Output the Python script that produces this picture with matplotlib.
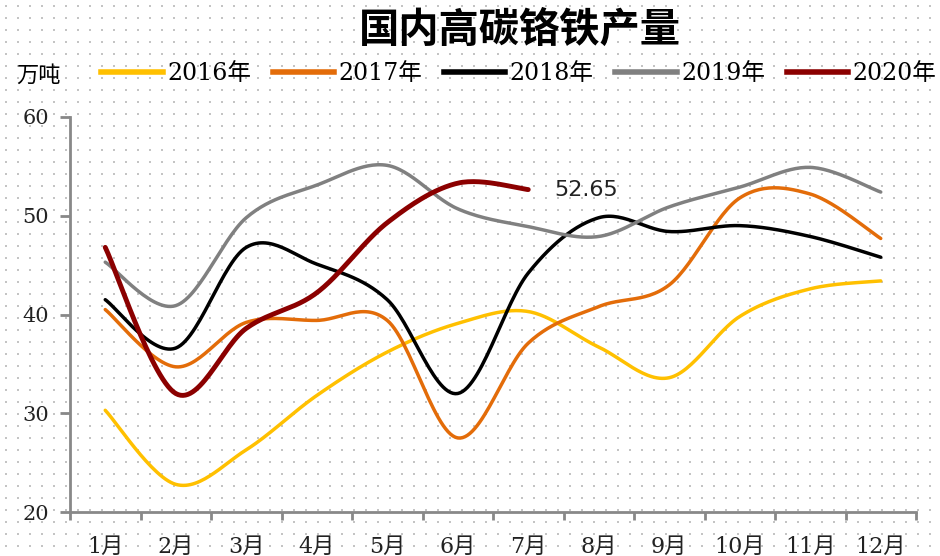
import numpy as np
import matplotlib
matplotlib.use("Agg")
import matplotlib.pyplot as plt
from matplotlib.lines import Line2D

plt.rcParams['font.family'] = ['DejaVu Serif', 'Noto Sans CJK SC']

months = ["1月", "2月", "3月", "4月", "5月", "6月", "7月", "8月", "9月", "10月", "11月", "12月"]
y2016 = [30.3, 22.8, 26.3, 31.8, 36.2, 39.1, 40.3, 36.7, 33.6, 39.8, 42.6, 43.4]
y2017 = [40.5, 34.7, 39.2, 39.4, 39.4, 27.5, 37.1, 40.8, 43.0, 51.8, 52.2, 47.7]
y2018 = [41.5, 36.6, 46.8, 45.1, 41.5, 32.0, 44.2, 49.8, 48.4, 49.0, 47.9, 45.8]
y2019 = [45.3, 40.9, 49.8, 53.1, 55.1, 50.7, 48.9, 47.9, 50.9, 52.9, 54.9, 52.4]
y2020 = [46.8, 32.0, 38.6, 42.2, 49.3, 53.3, 52.65]

series = [
    ("2016年", y2016, "#FFC000", 2.5),
    ("2017年", y2017, "#E36C09", 2.5),
    ("2018年", y2018, "#000000", 2.5),
    ("2019年", y2019, "#808080", 2.5),
    ("2020年", y2020, "#8B0000", 3.5),
]


def smooth(x, y, n=30):
    # Catmull-Rom style smoothing like Excel's smoothed lines
    x = np.asarray(x, float)
    y = np.asarray(y, float)
    px = np.concatenate([[x[0]], x, [x[-1]]])
    py = np.concatenate([[y[0]], y, [y[-1]]])
    xs, ys = [], []
    t = np.linspace(0, 1, n)
    for i in range(1, len(px) - 2):
        p0, p1, p2, p3 = np.array([px[i-1], py[i-1]]), np.array([px[i], py[i]]), np.array([px[i+1], py[i+1]]), np.array([px[i+2], py[i+2]])
        c1 = p1 + (p2 - p0) / 6
        c2 = p2 - (p3 - p1) / 6
        pts = ((1-t)**3)[:, None]*p1 + (3*(1-t)**2*t)[:, None]*c1 + (3*(1-t)*t**2)[:, None]*c2 + (t**3)[:, None]*p2
        xs.extend(pts[:, 0])
        ys.extend(pts[:, 1])
    return np.array(xs), np.array(ys)


fig = plt.figure(figsize=(9.4, 5.56), dpi=100)

# dotted background texture
bg = fig.add_axes([0, 0, 1, 1], zorder=-1)
gx, gy = np.meshgrid(np.arange(6, 940, 12), np.arange(6, 556, 12))
bg.scatter(gx.ravel(), gy.ravel(), s=1.4, color="#c4c4c4", marker="s", linewidths=0)
bg.set_xlim(0, 940)
bg.set_ylim(556, 0)
bg.axis("off")

ax = fig.add_axes([70/940, 1-512/556, 846/940, 395/556])
ax.set_facecolor("none")

x = np.arange(1, 13)
for name, vals, color, lw in series:
    sx, sy = smooth(x[:len(vals)], vals)
    ax.plot(sx, sy, color=color, lw=lw, solid_capstyle="round", label=name)

ax.annotate(f"{y2020[-1]:.2f}", (len(y2020), y2020[-1]), xytext=(19, 0), textcoords="offset points",
            va="center", ha="left", fontsize=16, color="#222222", family=["DejaVu Sans"])

ax.set_xlim(0.5, 12.5)
ax.set_ylim(20, 60)
ax.set_yticks([20, 30, 40, 50, 60])
ax.set_xticks(x)
ax.set_xticklabels(months)
ax.set_xticks(np.arange(0.5, 13, 1), minor=True)
ax.tick_params(axis="x", which="major", length=0, pad=17, labelsize=16, colors="#222222")
ax.tick_params(axis="x", which="minor", length=6, width=2, color="#888888")
ax.tick_params(axis="y", length=7, width=2, color="#888888", labelsize=15, labelcolor="#222222", pad=8)
for s in ["top", "right"]:
    ax.spines[s].set_visible(False)
for s in ["left", "bottom"]:
    ax.spines[s].set_color("#888888")
    ax.spines[s].set_linewidth(2)

fig.text(0.553, 0.946, "国内高碳铬铁产量", ha="center", va="center", fontsize=29, fontweight="bold",
         family=["Noto Sans CJK SC"])
fig.text(0.041, 0.865, "万吨", ha="center", va="center", fontsize=16, family=["Noto Sans CJK SC"])

handles = [Line2D([0], [0], color=c, lw=4) for _, _, c, _ in series]
fig.legend(handles, [s[0] for s in series], loc="center", bbox_to_anchor=(0.552, 0.868), ncol=5,
           frameon=False, fontsize=17, handlelength=2.6, columnspacing=0.9, handletextpad=0.2)

fig.savefig("out.png", dpi=100)
